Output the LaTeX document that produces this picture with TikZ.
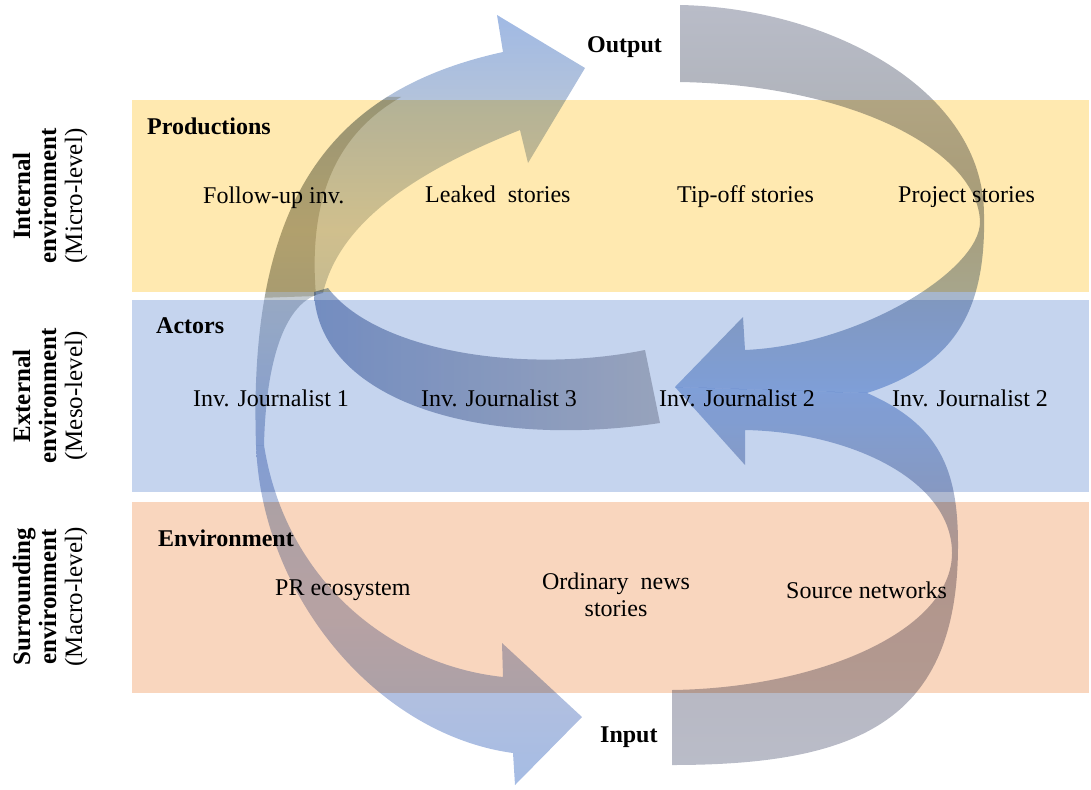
\documentclass[tikz,border=0pt]{standalone}
\usepackage{fontspec}
\setmainfont{Liberation Serif}
\definecolor{yband}{RGB}{255,233,176}
\definecolor{bband}{RGB}{197,212,238}
\definecolor{oband}{RGB}{249,214,190}
\definecolor{aTop}{RGB}{185,188,200}
\definecolor{aMid}{RGB}{168,172,176}
\definecolor{aBot}{RGB}{165,192,232}
\definecolor{bMid}{RGB}{182,178,188}
\definecolor{cTop}{RGB}{160,185,228}
\definecolor{cMid}{RGB}{208,210,205}
\definecolor{cBot}{RGB}{172,190,222}
\definecolor{dMid}{RGB}{188,194,220}
\definecolor{dBot}{RGB}{165,188,228}
\definecolor{eLeft}{RGB}{150,170,206}
\definecolor{eRight}{RGB}{196,196,202}
\definecolor{stripc}{RGB}{218,214,198}
\def\arrowCpath{(256,445) .. controls (248,200) and (330,90) .. (503,52) -- (497,15) -- (585,68) -- (528,163) -- (520,130) .. controls (420,170) and (340,220) .. (323,293) .. controls (285,300) and (266,360) .. (264,445) -- cycle}
\begin{document}
\begin{tikzpicture}[x=1pt,y=-1pt,
  txt/.style={font=\fontsize{24}{27}\selectfont, inner sep=0pt, anchor=base west},
  bold/.style={txt, font=\fontsize{24}{27}\selectfont\bfseries},
  side/.style={font=\fontsize{25}{26}\selectfont, align=center, rotate=90, inner sep=0pt},
  arr/.style={blend mode=multiply}]
\useasboundingbox (0,0) rectangle (1091,789);
% bands
\fill[yband] (132,100) rectangle (1089,292);
\fill[bband] (132,300) rectangle (1089,492);
\fill[oband] (132,502) rectangle (1089,693);
% left arc upper (C)
\path[arr, top color=cTop, bottom color=cBot, middle color=cMid] \arrowCpath;
\begin{scope}
  \clip \arrowCpath;
  \fill[arr, stripc] (401,97) .. controls (335,135) and (308,200) .. (316,296) -- (200,300) -- (200,97) -- cycle;
\end{scope}
% left arc lower (D)
\path[arr, top color=cBot, bottom color=dBot, middle color=dMid]
  (256,445) .. controls (262,600) and (380,735) .. (513,753) -- (515,785) -- (582,717) -- (502,643) -- (503,677)
  .. controls (390,665) and (285,580) .. (264,445) -- cycle;
% inner band (E)
\path[arr, left color=eLeft, right color=eRight]
  (645,350) .. controls (520,375) and (375,350) .. (328,288) -- (314,292)
  .. controls (318,400) and (480,450) .. (660,423) -- cycle;
% right arc upper (A)
\path[arr, top color=aTop, bottom color=aBot, middle color=aMid]
  (680,5) .. controls (830,8) and (984,90) .. (984,215) .. controls (986,310) and (955,365) .. (867,393)
  -- (675,387) -- (743,317) -- (745,350) .. controls (860,345) and (980,270) .. (980,222)
  .. controls (978,150) and (850,85) .. (680,82) -- cycle;
% right arc lower (B)
\path[arr, top color=aBot, bottom color=aTop, middle color=bMid]
  (672,765) .. controls (860,765) and (958,720) .. (958,545) .. controls (958,470) and (940,425) .. (867,393)
  -- (675,387) -- (745,465) -- (745,430) .. controls (850,432) and (952,480) .. (952,553)
  .. controls (952,630) and (820,688) .. (672,690) -- cycle;
% texts
\node[bold] (output) at (587,53) {Output};
\node[bold] (input) at (600,742) {Input};
\node[bold] (prod) at (147,134) {Productions};
\node[txt] (fu) at (203,203) {Follow-up inv.};
\node[txt] (leak) at (425,202) {Leaked~ stories};
\node[txt] (tipoff) at (677,202) {Tip-off stories};
\node[txt] (proj) at (898,202) {Project stories};
\node[bold] (actors) at (156,333) {Actors};
\node[txt] (ija) at (193,406) {Inv. Journalist 1};
\node[txt] (ijc) at (421,406) {Inv. Journalist 3};
\node[txt] (ijb) at (659,406) {Inv. Journalist 2};
\node[txt] (ijd) at (892,406) {Inv. Journalist 2};
\node[bold] (envh) at (158,546) {Environment};
\node[txt] (pr) at (275,595) {PR ecosystem};
\node[font=\fontsize{24}{27}\selectfont, inner sep=0pt, align=center] (ord) at (616,595) {Ordinary~ news\\stories};
\node[txt] (src) at (786,598) {Source networks};
\node[side] (lint) at (50,196) {\textbf{Internal}\\\textbf{environment}\\(Micro-level)};
\node[side] (lext) at (50,396) {\textbf{External}\\\textbf{environment}\\(Meso-level)};
\node[side] (lsur) at (50,597) {\textbf{Surrounding}\\\textbf{environment}\\(Macro-level)};
\end{tikzpicture}
\end{document}
